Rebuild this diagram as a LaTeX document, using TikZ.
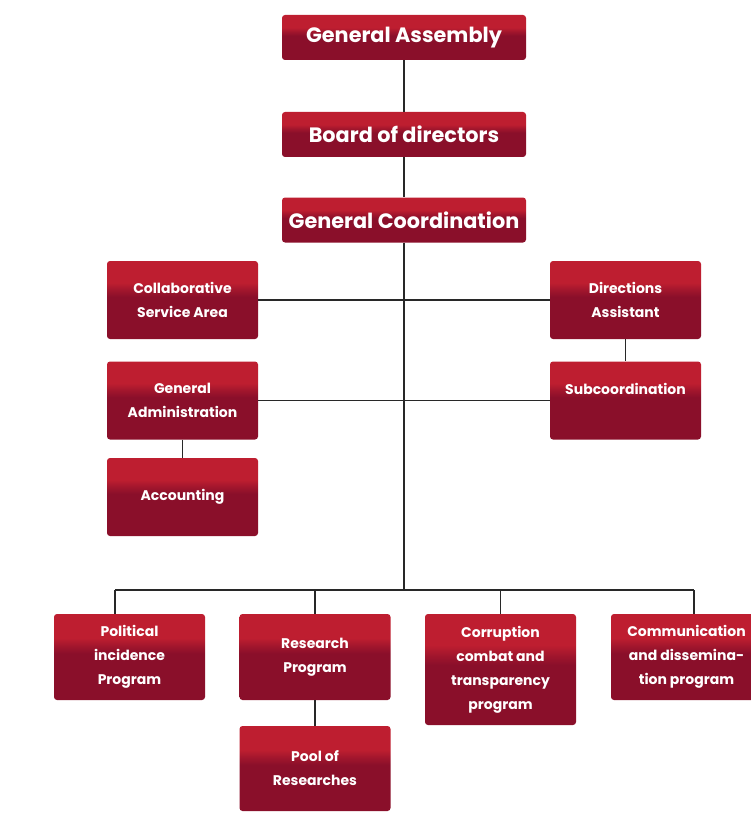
\documentclass[tikz,border=0pt]{standalone}
\usepackage{fontspec}
\setmainfont{Poppins}
\usetikzlibrary{positioning}
\definecolor{boxred}{RGB}{190,30,48}
\definecolor{boxdark}{RGB}{138,15,42}
\definecolor{linegray}{RGB}{40,40,40}
\pgfdeclareverticalshading{boxshade}{100bp}{color(0bp)=(boxdark); color(52bp)=(boxdark); color(56bp)=(boxdark!60!boxred); color(61bp)=(boxred); color(100bp)=(boxred)}
\tikzset{
  orgbox/.style={rectangle,rounded corners=3pt,shading=boxshade,text=white,align=center,inner sep=0pt,minimum width=151pt},
  topbox/.style={orgbox,minimum width=244pt,minimum height=45pt,font=\bfseries\fontsize{20.8}{24}\selectfont},
  midbox/.style={orgbox,minimum height=78pt,font=\bfseries\fontsize{14}{24}\selectfont},
  lowbox/.style={orgbox,minimum height=86pt,font=\bfseries\fontsize{14}{24}\selectfont},
  conn/.style={draw=linegray,line width=1.2pt}
}

\begin{document}
\begin{tikzpicture}[x=1pt,y=-1pt]
    \useasboundingbox (0,0) rectangle (751,821);
    % top of the chart
    \node[topbox](ga)at(404,37.5){General Assembly};
    \node[topbox](bd)at(404,134.5){Board of directors};
    \node[topbox](gc)at(404,220){General Coordination};
    % staff areas
    \node[midbox](csa)at(182.5,300){Collaborative\\Service Area};
    \node[midbox](da)at(625.5,300){Directions\\Assistant};
    \node[midbox](gadm)at(182.5,400.5){General\\Administration};
    \node[midbox](subc)at(625.5,400.5){Subcoordination\\\mbox{}};
    \node[midbox](acc)at(182.5,497){Accounting};
    % programs
    \node[lowbox](pip)at(129.5,657){Political\\incidence\\Program};
    \node[lowbox](rp)at(315,657){Research\\Program};
    \node[lowbox,minimum height=111pt](ccp)at(500.5,669.5){Corruption\\combat and\\transparency\\program};
    \node[lowbox](cdp)at(686.5,657){Communication\\and dissemina-\\tion program};
    \node[lowbox,minimum height=85pt](por)at(315,768.5){Pool of\\Researches};
    \coordinate(busl)at(115,590);
    \coordinate(busr)at(694,590);
    % connectors
    \draw[conn](ga)--(bd);
    \draw[conn](bd)--(gc);
    \draw[conn](gc)--(gc|-busl);
    \draw[conn](csa)--(da);
    \draw[conn](gadm)--(subc);
    \draw[conn](da)--(subc);
    \draw[conn](gadm)--(acc);
    \draw[conn](busl)--(busr);
    \draw[conn](busl)--(busl|-pip.north);
    \draw[conn](rp.north|-busl)--(rp);
    \draw[conn](ccp.north|-busl)--(ccp);
    \draw[conn](busr)--(busr|-cdp.north);
    \draw[conn](rp)--(por);
\end{tikzpicture}
\end{document}
